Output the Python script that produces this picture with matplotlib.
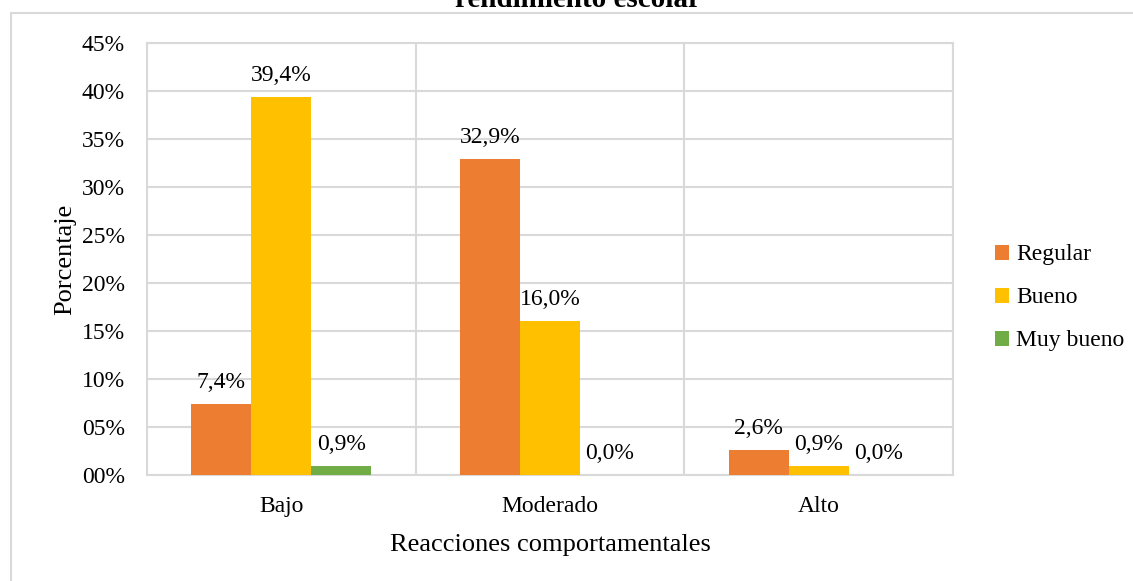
import matplotlib.pyplot as plt
import numpy as np
from matplotlib.patches import Rectangle

plt.rcParams['font.family'] = ['Liberation Serif', 'DejaVu Serif']

categorias = ['Bajo', 'Moderado', 'Alto']
series = ['Regular', 'Bueno', 'Muy bueno']
regular = [7.4, 32.9, 2.6]
bueno = [39.4, 16.0, 0.9]
muy_bueno = [0.9, 0.0, 0.0]
colores = ['#ED7D31', '#FFC000', '#70AD47']
yticks = [0, 5, 10, 15, 20, 25, 30, 35, 40, 45]

fig = plt.figure(figsize=(11.33, 5.81), dpi=100)
ax = fig.add_axes([147 / 1133, 1 - 475 / 581, (953 - 147) / 1133, (475 - 43) / 581])

# marco del grafico
fig.patches.append(Rectangle((11 / 1133, -0.05), 1.2, 1 - 13 / 581 + 0.05,
                             transform=fig.transFigure, fill=False,
                             edgecolor='#d9d9d9', linewidth=1.5))

x = np.arange(len(categorias))
w = 0.223
for i, (nombre, vals) in enumerate(zip(series, [regular, bueno, muy_bueno])):
    pos = x + (i - 1) * w
    ax.bar(pos, vals, width=w, color=colores[i], label=nombre, zorder=3)
    for p, v in zip(pos, vals):
        ax.annotate(f'{v:.1f}%'.replace('.', ','), (p, v), xytext=(0, 8),
                    textcoords='offset points', ha='center', va='bottom', fontsize=17)

ax.set_xlim(-0.5, 2.5)
ax.set_ylim(0, 45)
ax.set_yticks(yticks)
ax.set_yticklabels([f'{t:02d}%' for t in yticks])
ax.set_xticks(x)
ax.set_xticklabels(categorias)
ax.set_xticks([-0.5, 0.5, 1.5, 2.5], minor=True)
ax.tick_params(axis='both', which='both', length=0, labelsize=17)
ax.tick_params(axis='y', pad=16)
ax.tick_params(axis='x', pad=15)
ax.grid(axis='y', color='#d9d9d9', linewidth=1.5, zorder=0)
ax.grid(axis='x', which='minor', color='#d9d9d9', linewidth=1.5, zorder=0)
for s in ax.spines.values():
    s.set_color('#d9d9d9')
    s.set_linewidth(1.5)

ax.set_xlabel('Reacciones comportamentales', fontsize=19, labelpad=12)
ax.set_ylabel('Porcentaje', fontsize=19, labelpad=4)

fig.text(578 / 1133, 1 - 7 / 581, 'rendimiento escolar', ha='center', va='baseline',
         fontsize=21, fontweight='bold')

ax.legend(loc='center left', bbox_to_anchor=(1.026, 0.41), frameon=False, fontsize=17,
          handlelength=0.6, handleheight=0.6, handletextpad=0.3, labelspacing=0.93)

fig.savefig('out.png', dpi=100)
